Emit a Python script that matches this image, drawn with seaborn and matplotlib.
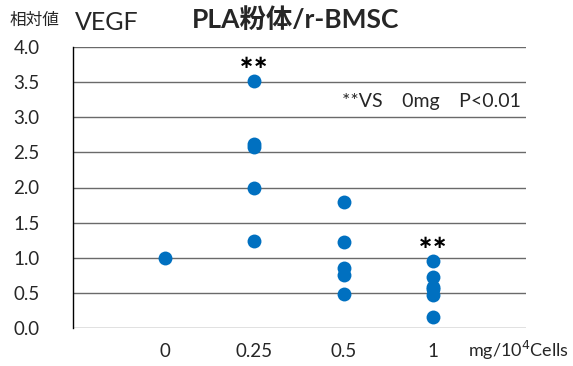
import matplotlib
matplotlib.use("Agg")
import matplotlib.pyplot as plt
import seaborn as sns
import pandas as pd

categories = ["0", "0.25", "0.5", "1"]
vals_0 = [1.0]
vals_025 = [3.52, 2.62, 2.58, 2.0, 1.24]
vals_05 = [1.80, 1.22, 0.86, 0.76, 0.49]
vals_1 = [0.95, 0.72, 0.59, 0.55, 0.47, 0.15]
y_ticks = [0.0, 0.5, 1.0, 1.5, 2.0, 2.5, 3.0, 3.5, 4.0]
sig_groups = ["0.25", "1"]

rows = []
for cat, vals in zip(categories, [vals_0, vals_025, vals_05, vals_1]):
    for v in vals:
        rows.append({"dose": cat, "value": v})
df = pd.DataFrame(rows)

sns.set_theme(style="white")
plt.rcParams['font.family'] = ['Lato', 'Noto Sans CJK JP', 'DejaVu Sans']

fig = plt.figure(figsize=(5.73, 3.66), dpi=100)
ax = fig.add_axes([73/573, 1-328/366, (526-73)/573, (328-47)/366])

sns.stripplot(data=df, x="dose", y="value", order=categories, jitter=False,
              color="#0070C0", size=10, linewidth=0, ax=ax, zorder=3)

ax.set_ylim(0, 4.0)
ax.set_xlim(-1.03, 4.04)
ax.set_yticks(y_ticks)
ax.set_yticklabels([f"{t:.1f}" for t in y_ticks], fontsize=13.5)
ax.tick_params(axis='x', length=0, labelsize=13.5, pad=11)
ax.tick_params(axis='y', length=0, pad=24)
ax.set_xlabel("")
ax.set_ylabel("")
for t in y_ticks:
    ax.axhline(t, color="#6a6a6a", lw=1.0, zorder=1)
for s in ["top", "right", "bottom"]:
    ax.spines[s].set_visible(False)
ax.spines["left"].set_color("black")
ax.spines["left"].set_linewidth(1.0)

# significance markers
for g, top in zip(sig_groups, [max(vals_025), max(vals_1)]):
    xi = categories.index(g)
    ax.text(xi, top + 0.13, "∗∗", ha="center", va="bottom", fontsize=13,
            fontweight="bold", family=['DejaVu Sans'], color="black")

fig.text(431/573, 1-101/366, "**VS　0mg　P<0.01", ha="center", va="center",
         fontsize=14, family=['Lato', 'Noto Sans CJK JP'])
fig.text(519/573, 1-350/366, "mg/10$^4$Cells", ha="center", va="center",
         fontsize=13)

fig.text(10/573, 1-20/366, "相対値", ha="left", va="center", fontsize=12,
         family=['Noto Sans CJK JP'])
fig.text(75/573, 1-22/366, "VEGF", ha="left", va="center", fontsize=18)
fig.text(296/573, 1-20/366, "PLA粉体/r-BMSC", ha="center", va="center",
         fontsize=19, fontweight="bold", family=['Lato', 'Noto Sans CJK JP'])

fig.savefig("out.png", dpi=100)
